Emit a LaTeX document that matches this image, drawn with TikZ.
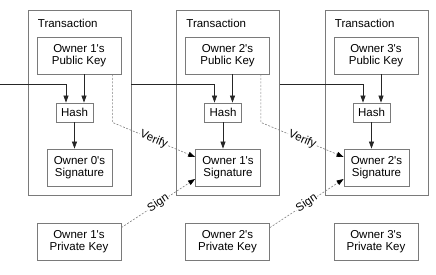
\documentclass[tikz,border=0pt]{standalone}
\usepackage{fontspec}
\setmainfont{Liberation Sans}
\usetikzlibrary{arrows.meta}

\definecolor{edgegray}{HTML}{7A7A7A}
\tikzset{
  txt/.style={font=\fontsize{11.5}{12.5}\selectfont},
  box/.style={txt, draw=edgegray, line width=0.8pt, inner sep=0pt, align=center},
  keybox/.style={box, minimum width=84pt, minimum height=37pt},
  sigbox/.style={box, minimum width=65pt, minimum height=37pt},
  hashbox/.style={box, minimum width=37pt, minimum height=19pt},
  txbox/.style={draw=edgegray, line width=0.8pt, inner sep=0pt,
    minimum width=103pt, minimum height=185pt},
  link/.style={draw=black!85, line width=0.7pt, -{Triangle[length=7pt,width=5pt]}},
  verify/.style={draw=gray, line width=0.6pt, dash pattern=on 2pt off 1.5pt,
    -{Triangle[length=7pt,width=5pt,black]}},
  lbl/.style={txt, sloped, fill=white, inner sep=1pt}
}

\begin{document}
\begin{tikzpicture}[x=1pt,y=-1pt]
  \useasboundingbox (0,0) rectangle (436,274);
  % transaction frames
  \node[txbox] (tx1) at (79.5,102.5) {};
  \node[txbox] (tx2) at (228,102.5) {};
  \node[txbox] (tx3) at (376.5,102.5) {};
  \node[txt,anchor=base west,inner sep=0pt] (title1) at (37.7,27) {Transaction};
  \node[txt,anchor=base west,inner sep=0pt] (title2) at (186.2,27) {Transaction};
  \node[txt,anchor=base west,inner sep=0pt] (title3) at (334.7,27) {Transaction};

  % keys, hashes and signatures
  \node[keybox]  (pub1)  at (79,55.5)    {Owner 1\textquotesingle s\\Public Key};
  \node[keybox]  (pub2)  at (227.5,55.5) {Owner 2\textquotesingle s\\Public Key};
  \node[keybox]  (pub3)  at (376,55.5)   {Owner 3\textquotesingle s\\Public Key};
  \node[hashbox] (hash1) at (74.5,112.5)  {Hash};
  \node[hashbox] (hash2) at (223,112.5)   {Hash};
  \node[hashbox] (hash3) at (371.5,112.5) {Hash};
  \node[sigbox]  (sig1)  at (79.5,167.5)  {Owner 0\textquotesingle s\\Signature};
  \node[sigbox]  (sig2)  at (228,167.5)   {Owner 1\textquotesingle s\\Signature};
  \node[sigbox]  (sig3)  at (376.5,167.5) {Owner 2\textquotesingle s\\Signature};
  \node[keybox]  (priv1) at (79,241.5)    {Owner 1\textquotesingle s\\Private Key};
  \node[keybox]  (priv2) at (227.5,241.5) {Owner 2\textquotesingle s\\Private Key};
  \node[keybox]  (priv3) at (376,241.5)   {Owner 3\textquotesingle s\\Private Key};

  % chain of hashes
  \coordinate (start) at (0,84);
  \draw[link] (start) -| ([xshift=-8.5pt]hash1.north);
  \draw[link] (tx1.east |- start) -| ([xshift=-8.5pt]hash2.north);
  \draw[link] (tx2.east |- start) -| ([xshift=-8.5pt]hash3.north);
  \draw[link] ([xshift=9.5pt]hash1.north |- pub1.south) -- ([xshift=9.5pt]hash1.north);
  \draw[link] ([xshift=9.5pt]hash2.north |- pub2.south) -- ([xshift=9.5pt]hash2.north);
  \draw[link] ([xshift=9.5pt]hash3.north |- pub3.south) -- ([xshift=9.5pt]hash3.north);
  \draw[link] (hash1.south) -- (hash1 |- sig1.north);
  \draw[link] (hash2.south) -- (hash2 |- sig2.north);
  \draw[link] (hash3.south) -- (hash3 |- sig3.north);

  % verify and sign
  \draw[verify] ([xshift=-9pt]pub1.south east) -- ([xshift=-9pt]pub1.south east |- hash1.south)
    -- node[lbl] {Verify} ([yshift=10.5pt]sig2.west);
  \draw[verify] ([xshift=-9pt]pub2.south east) -- ([xshift=-9pt]pub2.south east |- hash2.south)
    -- node[lbl] {Verify} ([yshift=10.5pt]sig3.west);
  \draw[verify] ([yshift=-5pt]priv1.north east) -- node[lbl] {Sign} ([yshift=-11.5pt]sig2.west);
  \draw[verify] ([yshift=-5pt]priv2.north east) -- node[lbl] {Sign} ([yshift=-11.5pt]sig3.west);
\end{tikzpicture}
\end{document}
